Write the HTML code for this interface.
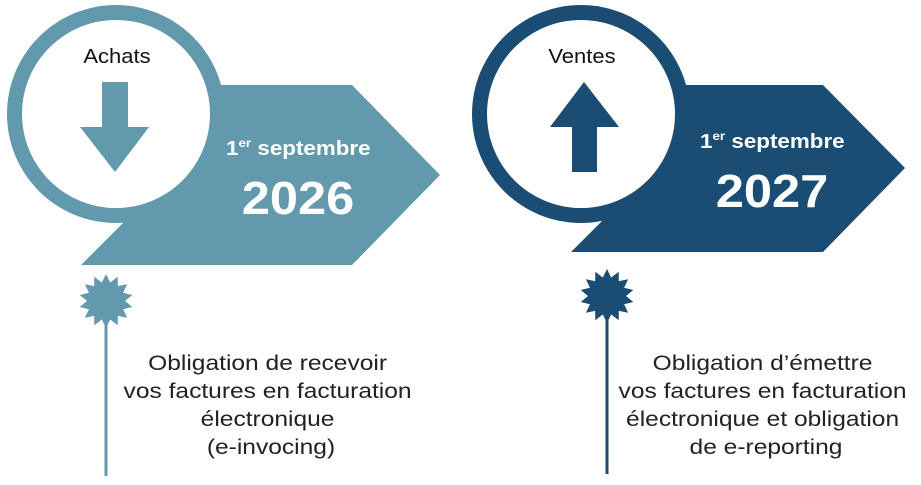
<!DOCTYPE html>
<html><head><meta charset="utf-8"><style>
html,body{margin:0;padding:0;background:#fff;}
svg{display:block;font-family:"Liberation Sans","DejaVu Sans",sans-serif;}
</style></head><body>
<svg id="s" width="921" height="485" viewBox="0 0 921 485" xmlns="http://www.w3.org/2000/svg">
<!-- Left -->
<polygon points="200,85 352,85 440,175 352,265 81,265 200,146" fill="#6399ad"/>
<circle cx="116" cy="114" r="109" fill="#6399ad"/>
<circle cx="116" cy="114" r="94" fill="#fff"/>
<polygon points="102,82 128,82 128,127 149,127 115,172 80,127 102,127" fill="#6399ad"/>
<g transform="translate(117 0) scale(1.1 1) translate(-117 0)"><text x="117" y="63" font-size="20" text-anchor="middle" fill="#111">Achats</text></g>
<g transform="translate(226 0) scale(1.12 1) translate(-226 0)"><text x="226" y="155" font-size="20" font-weight="bold" fill="#fff">1<tspan font-size="12" dy="-8">er</tspan><tspan dy="8"> septembre</tspan></text></g>
<g transform="translate(298 0) scale(1.1 1) translate(-298 0)"><text x="298" y="214" font-size="46" font-weight="bold" text-anchor="middle" fill="#fff">2026</text></g>
<line x1="106" y1="310" x2="106" y2="476" stroke="#6399ad" stroke-width="3"/>
<polygon id="st1" fill="#6399ad"/>
<g transform="translate(271 0) scale(1.17 1) translate(-271 0)">
<text font-size="21" text-anchor="middle" fill="#222">
<tspan x="271" y="370">Obligation de recevoir</tspan>
<tspan x="271" y="398">vos factures en facturation</tspan>
<tspan x="271" y="426">électronique</tspan>
<tspan x="271" y="454">(e-invocing)</tspan>
</text></g>
<!-- Right -->
<polygon points="670,85 823,85 905,168 823,252 571,252 670,153" fill="#1b4d74"/>
<circle cx="581" cy="114" r="109" fill="#1b4d74"/>
<circle cx="581" cy="114" r="94" fill="#fff"/>
<polygon points="572,172 597,172 597,127 619,127 584,82 550,127 572,127" fill="#1b4d74"/>
<g transform="translate(582 0) scale(1.1 1) translate(-582 0)"><text x="582" y="63" font-size="20" text-anchor="middle" fill="#111">Ventes</text></g>
<g transform="translate(700 0) scale(1.12 1) translate(-700 0)"><text x="700" y="148" font-size="20" font-weight="bold" fill="#fff">1<tspan font-size="12" dy="-8">er</tspan><tspan dy="8"> septembre</tspan></text></g>
<g transform="translate(772 0) scale(1.1 1) translate(-772 0)"><text x="772" y="207" font-size="46" font-weight="bold" text-anchor="middle" fill="#fff">2027</text></g>
<line x1="607" y1="310" x2="607" y2="474" stroke="#1b4d74" stroke-width="3"/>
<polygon id="st2" fill="#1b4d74"/>
<g transform="translate(766 0) scale(1.17 1) translate(-766 0)">
<text font-size="21" text-anchor="middle" fill="#222">
<tspan x="766" y="370">Obligation d’émettre</tspan>
<tspan x="766" y="398">vos factures en facturation</tspan>
<tspan x="766" y="426">électronique et obligation</tspan>
<tspan x="766" y="454">de e-reporting</tspan>
</text></g>
</svg>
<script>
function star(id,cx,cy,R,r,n){var p=[];for(var i=0;i<2*n;i++){var a=Math.PI*i/n-Math.PI/2;var rr=i%2?r:R;p.push((cx+rr*Math.cos(a)).toFixed(1)+","+(cy+rr*Math.sin(a)).toFixed(1));}document.getElementById(id).setAttribute("points",p.join(" "));}
star("st1",106,301,27,19,14);
star("st2",607,296,27,19,14);
</script>
</body></html>
